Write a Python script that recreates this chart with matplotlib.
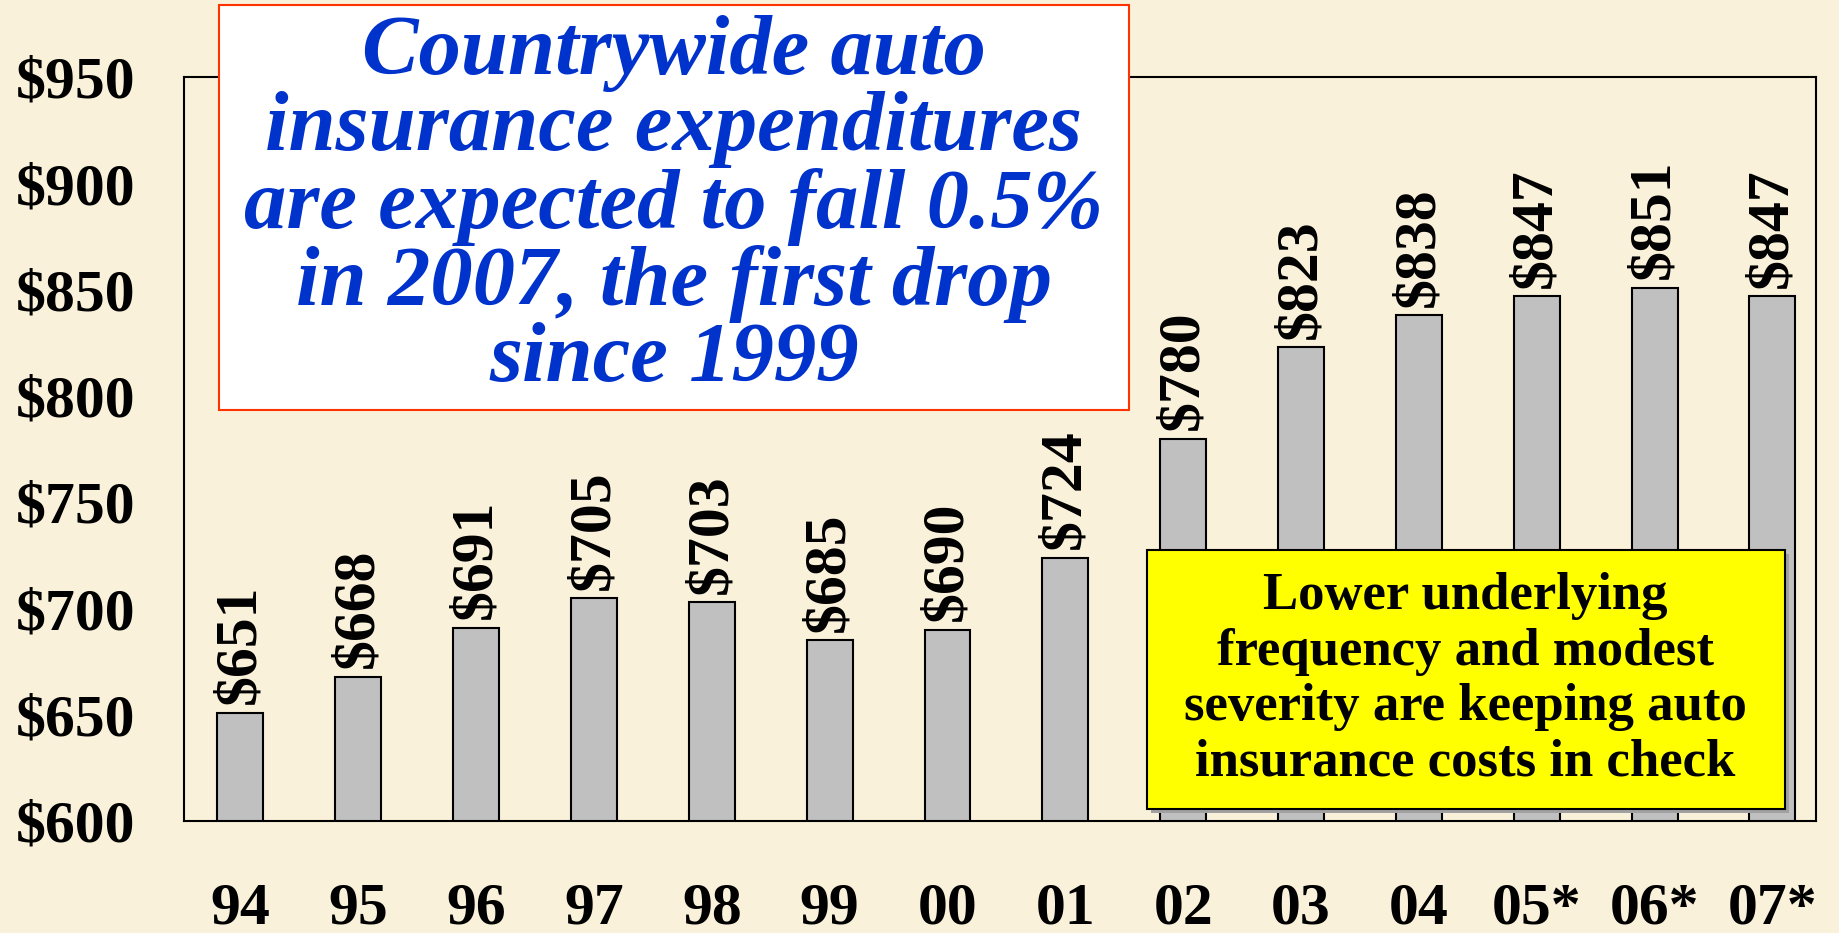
import matplotlib.pyplot as plt
from matplotlib.patches import Rectangle

# Average auto insurance expenditures (countrywide), * = estimate
years = ["94", "95", "96", "97", "98", "99", "00", "01", "02", "03", "04", "05*", "06*", "07*"]
expenditures = [651, 668, 691, 705, 703, 685, 690, 724, 780, 823, 838, 847, 851, 847]
y_ticks = [600, 650, 700, 750, 800, 850, 900, 950]

title_lines = ["Countrywide auto", "insurance expenditures", "are expected to fall 0.5%",
               "in 2007, the first drop", "since 1999"]
note_lines = ["Lower underlying", "frequency and modest",
              "severity are keeping auto", "insurance costs in check"]

bg = "#FAF1DA"
serif = ["Liberation Serif", "DejaVu Serif"]

fig = plt.figure(figsize=(18.39, 9.33), dpi=100, facecolor=bg)
ax = fig.add_axes([0.100, 0.120, 0.8875, 0.797])
ax.set_facecolor(bg)

x = range(len(years))
bars = ax.bar(x, expenditures, width=0.39, color="#C0C0C0", edgecolor="black", linewidth=1.5)
for xi, v in zip(x, expenditures):
    ax.annotate(f"${v}", (xi, v), xytext=(0, 6), textcoords="offset points",
                rotation=90, ha="center", va="bottom", fontsize=43,
                fontweight="bold", family=serif)

ax.set_xlim(-0.48, 13.37)
ax.set_ylim(600, 950)
ax.set_yticks(y_ticks)
ax.set_yticklabels([f"${t}" for t in y_ticks])
ax.set_xticks(list(x))
ax.set_xticklabels(years)
ax.tick_params(axis="y", length=0, pad=35)
ax.tick_params(axis="x", length=0, pad=44)
for lab in ax.get_xticklabels() + ax.get_yticklabels():
    lab.set_fontsize(43)
    lab.set_fontweight("bold")
    lab.set_family(serif)
for s in ax.spines.values():
    s.set_linewidth(1.5)

# title box
fig.add_artist(Rectangle((0.119, 0.561), 0.495, 0.434, transform=fig.transFigure,
                         facecolor="white", edgecolor="#FF3300", linewidth=1.5, zorder=5))
fig.text(0.3665, 0.778, "\n".join(title_lines), ha="center", va="center",
         fontsize=61, color="#0033CC", fontweight="bold", fontstyle="italic",
         family=serif, linespacing=0.99, zorder=6)

# note box with shadow
fig.add_artist(Rectangle((0.6237 + 0.002, 0.133 - 0.004), 0.347, 0.2776, transform=fig.transFigure,
                         facecolor="#A0A0A0", edgecolor="none", zorder=4))
fig.add_artist(Rectangle((0.6237, 0.133), 0.347, 0.2776, transform=fig.transFigure,
                         facecolor="#FFFF00", edgecolor="black", linewidth=1.5, zorder=5))
fig.text(0.797, 0.272, "\n".join(note_lines), ha="center", va="center",
         fontsize=38, fontweight="bold", family=serif, linespacing=1.2, zorder=6)

fig.savefig("out.png", dpi=100, facecolor=bg)
